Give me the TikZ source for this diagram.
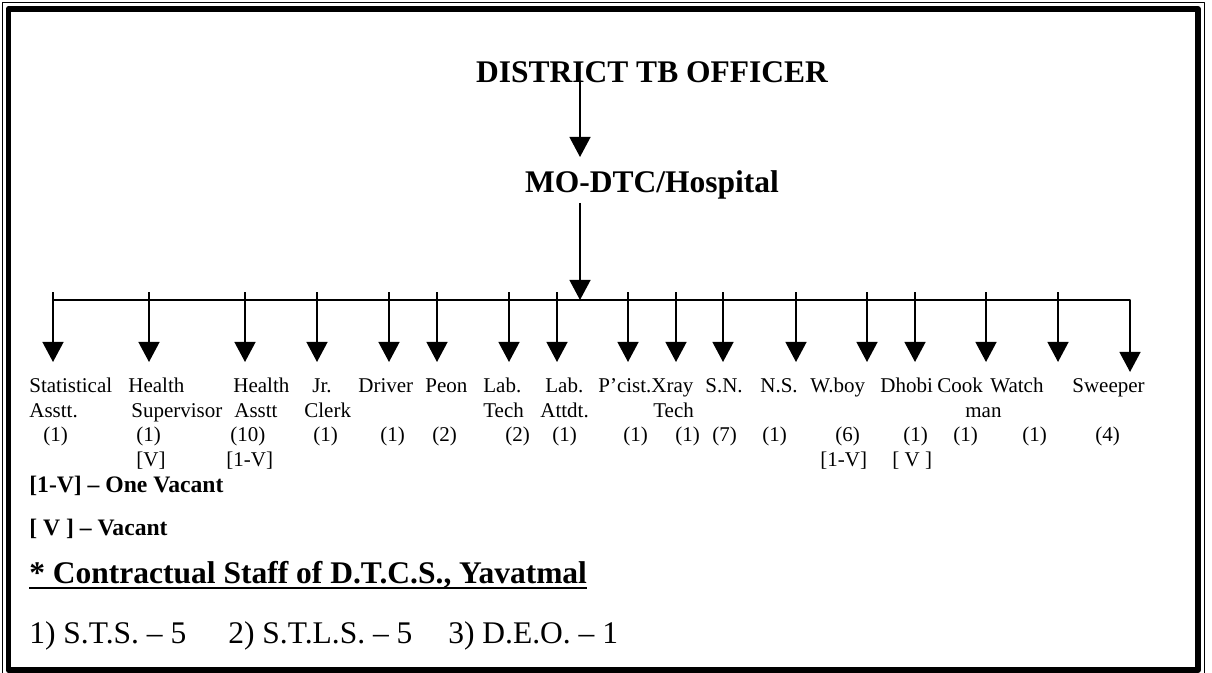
\documentclass[tikz,border=0pt]{standalone}
\usepackage{fontspec}
\setmainfont{Liberation Serif}
\usetikzlibrary{arrows.meta}
\begin{document}
\begin{tikzpicture}[x=0.5714pt, y=-0.5714pt, line join=round, >={Triangle[width=12pt,length=11.5pt]},
  head/.style={anchor=base, inner sep=0pt, font=\fontsize{18}{22}\selectfont\bfseries},
  post/.style={anchor=base west, inner sep=0pt, font=\fontsize{12}{14}\selectfont},
  legend/.style={anchor=base west, inner sep=0pt, font=\fontsize{13.5}{16}\selectfont\bfseries},
  link/.style={line width=1pt, ->}]
	\useasboundingbox (0,0) rectangle (1212,673);
	%%%%%%%%%%%%%%%%%%%%%%%%%%%%%%%%%
	\draw[line width=0.9pt] (2.5,2.5) rectangle (1204.5,677);
	\draw[line width=3.4pt] (8.5,9) rectangle (1198,670);
	%%%%%%%%%%%%%%%%%%%%%%%%%%%%%%%%%
	\node[head] (dto) at (652,83) {DISTRICT TB OFFICER};
	\node[head] (mo) at (652,193) {MO-DTC/Hospital};
	\coordinate (dto-out) at (580,82);
	\coordinate (mo-in) at (580,157);
	\coordinate (mo-out) at (580,203);
	\coordinate (hub) at (580,300);
	\draw[link] (dto-out) -- (mo-in);
	\draw[link] (mo-out) -- (hub);
	%%%%%%%%%%%%%%%%%%%%%%%%%%%%%%%%%
	\coordinate (bar-w) at (53,300);
	\coordinate (bar-e) at (1130,300);
	\coordinate (tip-17) at (1130,372);
	\draw[link] (bar-w) -- (bar-e) -- (tip-17);
	\foreach \x [count=\i] in {53,149,245,317,389,437,509,557,628,676,723,796,867,915,986,1058}{
		\coordinate (top-\i) at (\x,292);
		\coordinate (tip-\i) at (\x,362);
		\draw[link] (top-\i) -- (tip-\i);
	}
	%%%%%%%%%%%%%%%%%%%%%%%%%%%%%%%%%
	\foreach \x/\t [count=\i] in {29/Statistical,128/Health,233/Health,312/Jr.,358/Driver,425/Peon,483/Lab.,545/Lab.,598/P’cist.Xray,705/S.N.,760/N.S.,810/W.boy,880/Dhobi,937/Cook,990/Watch,1072/Sweeper}
		\node[post] (name-\i) at (\x,392) {\t};
	\foreach \x/\t [count=\i] in {29/Asstt.,131/Supervisor,234/Asstt,304/Clerk,483/Tech,540/Attdt.,653/Tech,965/man}
		\node[post] (more-\i) at (\x,417) {\t};
	\foreach \x/\t [count=\i] in {43/(1),136/(1),230/(10),313/(1),380/(1),432/(2),505/(2),552/(1),623/(1),675/(1),712/(7),762/(1),835/(6),903/(1),953/(1),1022/(1),1095/(4)}
		\node[post] (num-\i) at (\x,441) {\t};
	\foreach \x/\t [count=\i] in {136/{[V]},226/{[1-V]},820/{[1-V]},892/{[ V ]}}
		\node[post] (vac-\i) at (\x,466) {\t};
	%%%%%%%%%%%%%%%%%%%%%%%%%%%%%%%%%
	\node[legend] (one) at (29,492) {[1-V] – One Vacant};
	\node[legend] (all) at (29,535) {[ V ] – Vacant};
	\node[legend, font=\fontsize{18}{22}\selectfont\bfseries] (con) at (29,583) {* Contractual Staff of D.T.C.S., Yavatmal};
	\draw[line width=1.1pt] ([yshift=-2.9pt]con.base west) -- ([yshift=-2.9pt]con.base east);
	\node[post, font=\fontsize{18}{22}\selectfont] (sts) at (29,643) {1) S.T.S. – 5};
	\node[post, font=\fontsize{18}{22}\selectfont] (stls) at (228,643) {2) S.T.L.S. – 5};
	\node[post, font=\fontsize{18}{22}\selectfont] (deo) at (448,643) {3) D.E.O. – 1};
\end{tikzpicture}
\end{document}
